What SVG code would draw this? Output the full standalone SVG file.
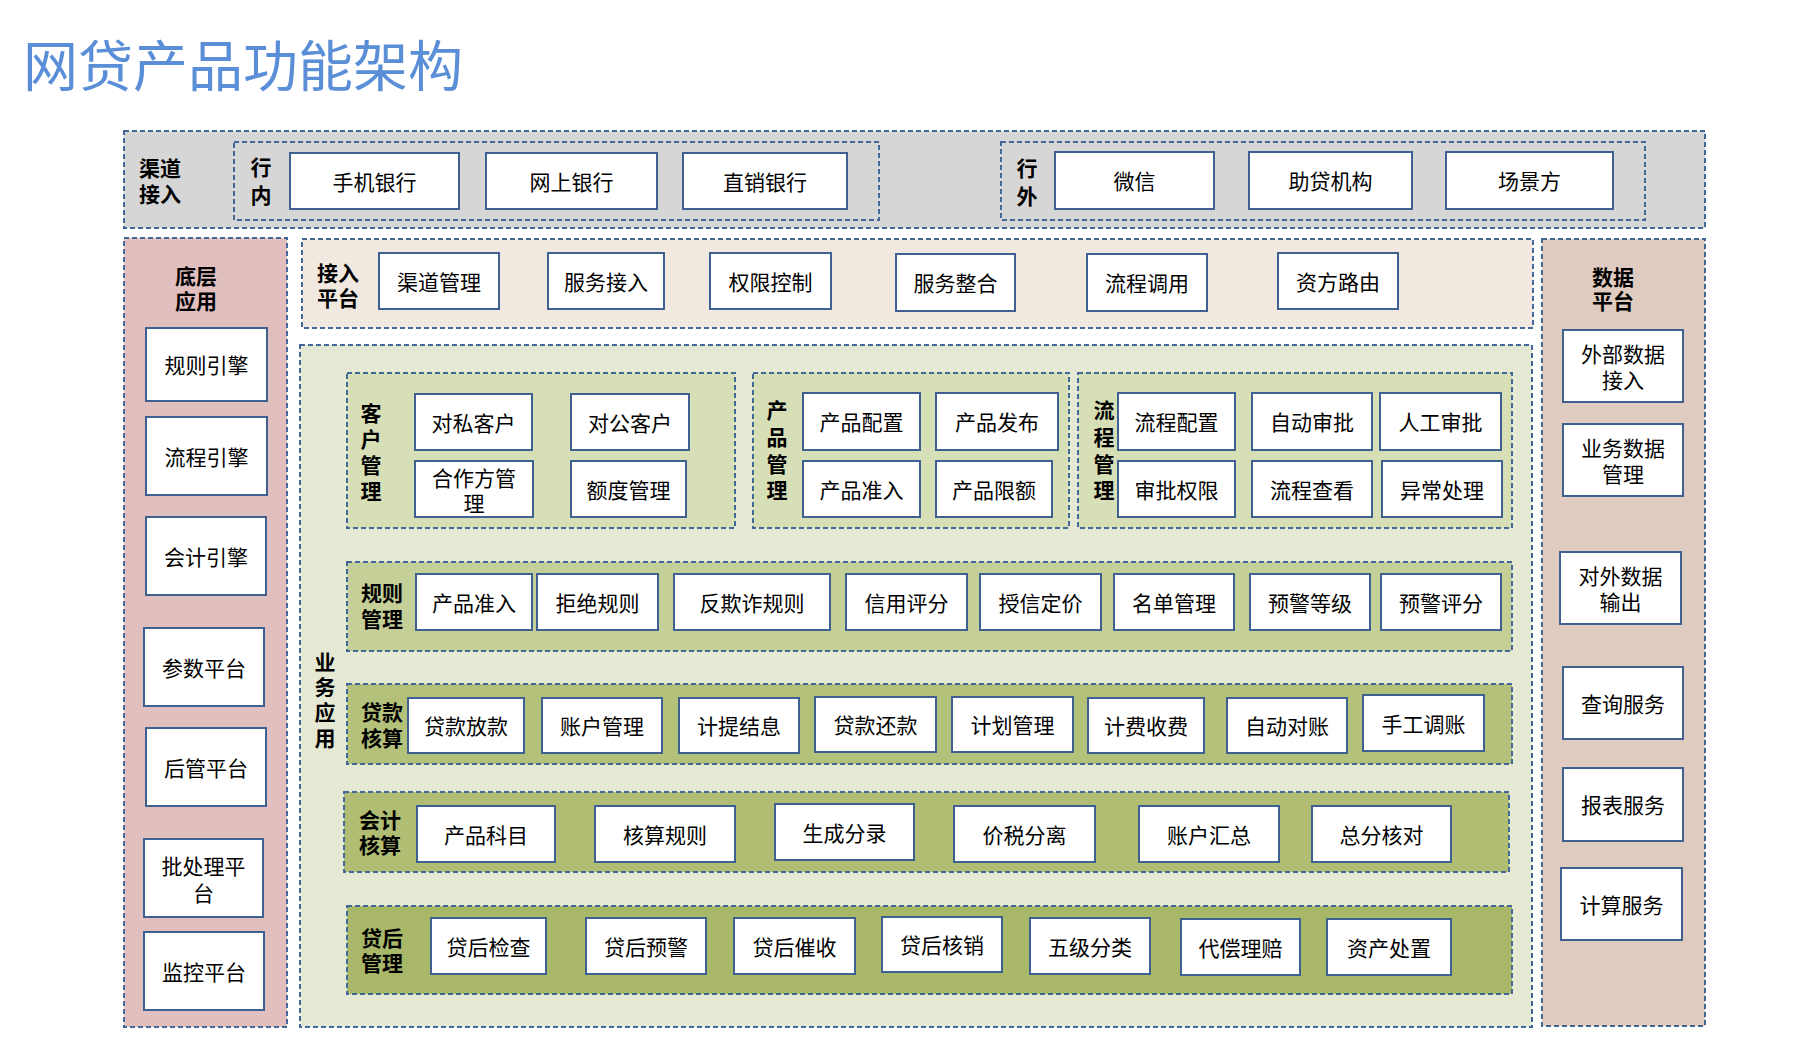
<svg xmlns="http://www.w3.org/2000/svg" width="1801" height="1039" viewBox="0 0 1801 1039">
<style>
text{font-family:"Liberation Sans","Noto Sans CJK SC",sans-serif;fill:#000;}
.t{font-size:21px;text-anchor:middle;dominant-baseline:central;}
.lb{font-size:21px;font-weight:700;text-anchor:middle;dominant-baseline:central;}
.bx{fill:#fff;stroke:#3f6192;stroke-width:2;}
.d{stroke:#44679a;stroke-width:2;stroke-dasharray:5 3;}
.gray{fill:#d6d6d6;}
.pink{fill:#e2bfbf;}
.tan{fill:#dfcbbf;}
.beige{fill:#f1e9e0;}
.biz{fill:#e5e9d4;}
.g1{fill:#d7dfb6;}
.g2{fill:#c5d098;}
.g3{fill:#b4c17a;}
.g4{fill:#b0bd72;}
.g5{fill:#a8b868;}
.none{fill:none;}
</style>
<rect width="1801" height="1039" fill="#fff"/>
<text x="23" y="67" style="font-size:55px;fill:#5a8fd8;dominant-baseline:central;">网贷产品功能架构</text>

<g transform="translate(0,1)">
<!-- Panels -->
<g id="channel-panel">
<rect class="gray d" x="124" y="130" width="1581" height="97"/>
<text class="lb" x="160" y="167">渠道<tspan x="160" dy="26">接入</tspan></text>
</g>
<g id="inner-bank">
<rect class="none d" x="234" y="141" width="645" height="78"/>
<text class="lb" x="261" y="166">行<tspan x="261" dy="28">内</tspan></text>
</g>
<g id="outer-bank">
<rect class="none d" x="1001" y="141" width="644" height="78"/>
<text class="lb" x="1027" y="167">行<tspan x="1027" dy="28">外</tspan></text>
</g>
<g id="base-panel">
<rect class="pink d" x="124" y="237" width="163" height="789"/>
<text class="lb" x="196" y="275">底层<tspan x="196" dy="25">应用</tspan></text>
</g>
<g id="access-panel">
<rect class="beige d" x="302" y="238" width="1231" height="89"/>
<text class="lb" x="338" y="272">接入<tspan x="338" dy="25">平台</tspan></text>
</g>
<g id="biz-panel">
<rect class="biz d" x="300" y="344" width="1232" height="682"/>
<text class="lb" x="325" y="661">业<tspan x="325" dy="25">务</tspan><tspan x="325" dy="25">应</tspan><tspan x="325" dy="26">用</tspan></text>
</g>
<g id="data-panel">
<rect class="tan d" x="1542" y="238" width="163" height="787"/>
<text class="lb" x="1613" y="276">数据<tspan x="1613" dy="24">平台</tspan></text>
</g>
<g id="cust-group">
<rect class="g1 d" x="347" y="372" width="388" height="155"/>
<text class="lb" x="371" y="412">客<tspan x="371" dy="26">户</tspan><tspan x="371" dy="26">管</tspan><tspan x="371" dy="26">理</tspan></text>
</g>
<g id="prod-group">
<rect class="g1 d" x="753" y="372" width="316" height="155"/>
<text class="lb" x="777" y="409">产<tspan x="777" dy="27">品</tspan><tspan x="777" dy="27">管</tspan><tspan x="777" dy="26">理</tspan></text>
</g>
<g id="flow-group">
<rect class="g1 d" x="1078" y="372" width="434" height="155"/>
<text class="lb" x="1104" y="409">流<tspan x="1104" dy="27">程</tspan><tspan x="1104" dy="27">管</tspan><tspan x="1104" dy="26">理</tspan></text>
</g>
<g id="rule-group">
<rect class="g2 d" x="347" y="561" width="1165" height="89"/>
<text class="lb" x="382" y="592">规则<tspan x="382" dy="26">管理</tspan></text>
</g>
<g id="loan-group">
<rect class="g3 d" x="347" y="683" width="1165" height="80"/>
<text class="lb" x="382" y="711">贷款<tspan x="382" dy="26">核算</tspan></text>
</g>
<g id="acct-group">
<rect class="g4 d" x="344" y="791" width="1165" height="80"/>
<text class="lb" x="380" y="819">会计<tspan x="380" dy="25">核算</tspan></text>
</g>
<g id="post-group">
<rect class="g5 d" x="347" y="905" width="1165" height="88"/>
<text class="lb" x="382" y="937">贷后<tspan x="382" dy="25">管理</tspan></text>
</g>

<!-- Channel nodes -->
<g id="n-mobile"><rect class="bx" x="290" y="152" width="169" height="56"/><text class="t" x="374.5" y="181">手机银行</text></g>
<g id="n-online"><rect class="bx" x="486" y="152" width="171" height="56"/><text class="t" x="571.5" y="181">网上银行</text></g>
<g id="n-direct"><rect class="bx" x="683" y="152" width="164" height="56"/><text class="t" x="765" y="181">直销银行</text></g>
<g id="n-wechat"><rect class="bx" x="1055" y="151" width="159" height="57"/><text class="t" x="1134.5" y="180.5">微信</text></g>
<g id="n-agency"><rect class="bx" x="1249" y="151" width="163" height="57"/><text class="t" x="1330.5" y="180.5">助贷机构</text></g>
<g id="n-scene"><rect class="bx" x="1446" y="151" width="167" height="57"/><text class="t" x="1529.5" y="180.5">场景方</text></g>

<!-- Base nodes -->
<g id="n-rule-engine"><rect class="bx" x="146" y="327" width="121" height="73"/><text class="t" x="206.5" y="364.5">规则引擎</text></g>
<g id="n-flow-engine"><rect class="bx" x="146" y="416" width="121" height="78"/><text class="t" x="206.5" y="456">流程引擎</text></g>
<g id="n-acct-engine"><rect class="bx" x="146" y="516" width="120" height="78"/><text class="t" x="206" y="556">会计引擎</text></g>
<g id="n-param"><rect class="bx" x="144" y="627" width="120" height="78"/><text class="t" x="204" y="667">参数平台</text></g>
<g id="n-backend"><rect class="bx" x="146" y="727" width="120" height="78"/><text class="t" x="206" y="767">后管平台</text></g>
<g id="n-batch"><rect class="bx" x="144" y="838" width="119" height="78"/><text class="t" x="203.5" y="865">批处理平<tspan x="203.5" dy="27">台</tspan></text></g>
<g id="n-monitor"><rect class="bx" x="144" y="931" width="120" height="78"/><text class="t" x="204" y="971">监控平台</text></g>

<!-- Access nodes -->
<g id="n-chan-mgmt"><rect class="bx" x="379" y="252" width="120" height="56"/><text class="t" x="439" y="281">渠道管理</text></g>
<g id="n-svc-in"><rect class="bx" x="548" y="252" width="116" height="56"/><text class="t" x="606" y="281">服务接入</text></g>
<g id="n-perm"><rect class="bx" x="710" y="252" width="121" height="56"/><text class="t" x="770.5" y="281">权限控制</text></g>
<g id="n-svc-int"><rect class="bx" x="896" y="253" width="119" height="57"/><text class="t" x="955.5" y="282.5">服务整合</text></g>
<g id="n-flow-call"><rect class="bx" x="1087" y="253" width="120" height="57"/><text class="t" x="1147" y="282.5">流程调用</text></g>
<g id="n-fund-route"><rect class="bx" x="1278" y="252" width="120" height="56"/><text class="t" x="1338" y="281">资方路由</text></g>

<!-- Customer -->
<g id="n-private"><rect class="bx" x="415" y="393" width="117" height="56"/><text class="t" x="473.5" y="422">对私客户</text></g>
<g id="n-corp"><rect class="bx" x="571" y="393" width="118" height="56"/><text class="t" x="630" y="422">对公客户</text></g>
<g id="n-partner"><rect class="bx" x="415" y="460" width="118" height="56"/><text class="t" x="474" y="477">合作方管<tspan x="474" dy="25">理</tspan></text></g>
<g id="n-quota"><rect class="bx" x="571" y="460" width="115" height="56"/><text class="t" x="628.5" y="489">额度管理</text></g>

<!-- Product -->
<g id="n-prod-conf"><rect class="bx" x="803" y="392" width="117" height="57"/><text class="t" x="861.5" y="421.5">产品配置</text></g>
<g id="n-prod-pub"><rect class="bx" x="936" y="392" width="122" height="57"/><text class="t" x="997" y="421.5">产品发布</text></g>
<g id="n-prod-adm"><rect class="bx" x="803" y="460" width="117" height="56"/><text class="t" x="861.5" y="489">产品准入</text></g>
<g id="n-prod-lim"><rect class="bx" x="936" y="460" width="116" height="56"/><text class="t" x="994" y="489">产品限额</text></g>

<!-- Flow -->
<g id="n-flow-conf"><rect class="bx" x="1118" y="392" width="117" height="57"/><text class="t" x="1176.5" y="421.5">流程配置</text></g>
<g id="n-auto-appr"><rect class="bx" x="1252" y="392" width="120" height="57"/><text class="t" x="1312" y="421.5">自动审批</text></g>
<g id="n-man-appr"><rect class="bx" x="1380" y="392" width="121" height="57"/><text class="t" x="1440.5" y="421.5">人工审批</text></g>
<g id="n-appr-perm"><rect class="bx" x="1118" y="460" width="117" height="56"/><text class="t" x="1176.5" y="489">审批权限</text></g>
<g id="n-flow-view"><rect class="bx" x="1252" y="460" width="120" height="56"/><text class="t" x="1312" y="489">流程查看</text></g>
<g id="n-exception"><rect class="bx" x="1382" y="460" width="120" height="56"/><text class="t" x="1442" y="489">异常处理</text></g>

<!-- Rules -->
<g id="n-r1"><rect class="bx" x="416" y="573" width="116" height="56"/><text class="t" x="474" y="602">产品准入</text></g>
<g id="n-r2"><rect class="bx" x="537" y="573" width="121" height="56"/><text class="t" x="597.5" y="602">拒绝规则</text></g>
<g id="n-r3"><rect class="bx" x="674" y="573" width="156" height="56"/><text class="t" x="752" y="602">反欺诈规则</text></g>
<g id="n-r4"><rect class="bx" x="846" y="573" width="121" height="56"/><text class="t" x="906.5" y="602">信用评分</text></g>
<g id="n-r5"><rect class="bx" x="980" y="573" width="121" height="56"/><text class="t" x="1040.5" y="602">授信定价</text></g>
<g id="n-r6"><rect class="bx" x="1114" y="573" width="120" height="56"/><text class="t" x="1174" y="602">名单管理</text></g>
<g id="n-r7"><rect class="bx" x="1250" y="573" width="120" height="56"/><text class="t" x="1310" y="602">预警等级</text></g>
<g id="n-r8"><rect class="bx" x="1381" y="573" width="120" height="56"/><text class="t" x="1441" y="602">预警评分</text></g>

<!-- Loan accounting -->
<g id="n-l1"><rect class="bx" x="408" y="697" width="116" height="55"/><text class="t" x="466" y="725.5">贷款放款</text></g>
<g id="n-l2"><rect class="bx" x="542" y="697" width="120" height="55"/><text class="t" x="602" y="725.5">账户管理</text></g>
<g id="n-l3"><rect class="bx" x="679" y="697" width="120" height="55"/><text class="t" x="739" y="725.5">计提结息</text></g>
<g id="n-l4"><rect class="bx" x="815" y="696" width="121" height="55"/><text class="t" x="875.5" y="724.5">贷款还款</text></g>
<g id="n-l5"><rect class="bx" x="952" y="696" width="121" height="55"/><text class="t" x="1012.5" y="724.5">计划管理</text></g>
<g id="n-l6"><rect class="bx" x="1088" y="697" width="116" height="55"/><text class="t" x="1146" y="725.5">计费收费</text></g>
<g id="n-l7"><rect class="bx" x="1227" y="697" width="120" height="55"/><text class="t" x="1287" y="725.5">自动对账</text></g>
<g id="n-l8"><rect class="bx" x="1363" y="694" width="121" height="56"/><text class="t" x="1423.5" y="723">手工调账</text></g>

<!-- Accounting -->
<g id="n-a1"><rect class="bx" x="417" y="805" width="138" height="56"/><text class="t" x="486" y="834">产品科目</text></g>
<g id="n-a2"><rect class="bx" x="595" y="805" width="140" height="56"/><text class="t" x="665" y="834">核算规则</text></g>
<g id="n-a3"><rect class="bx" x="775" y="803" width="139" height="56"/><text class="t" x="844.5" y="832">生成分录</text></g>
<g id="n-a4"><rect class="bx" x="954" y="805" width="141" height="56"/><text class="t" x="1024.5" y="834">价税分离</text></g>
<g id="n-a5"><rect class="bx" x="1139" y="805" width="140" height="56"/><text class="t" x="1209" y="834">账户汇总</text></g>
<g id="n-a6"><rect class="bx" x="1312" y="805" width="139" height="56"/><text class="t" x="1381.5" y="834">总分核对</text></g>

<!-- Post-loan -->
<g id="n-p1"><rect class="bx" x="431" y="917" width="115" height="56"/><text class="t" x="488.5" y="946">贷后检查</text></g>
<g id="n-p2"><rect class="bx" x="586" y="917" width="120" height="56"/><text class="t" x="646" y="946">贷后预警</text></g>
<g id="n-p3"><rect class="bx" x="734" y="917" width="121" height="56"/><text class="t" x="794.5" y="946">贷后催收</text></g>
<g id="n-p4"><rect class="bx" x="882" y="916" width="120" height="55"/><text class="t" x="942" y="944.5">贷后核销</text></g>
<g id="n-p5"><rect class="bx" x="1030" y="917" width="120" height="56"/><text class="t" x="1090" y="946">五级分类</text></g>
<g id="n-p6"><rect class="bx" x="1181" y="918" width="119" height="56"/><text class="t" x="1240.5" y="947">代偿理赔</text></g>
<g id="n-p7"><rect class="bx" x="1327" y="918" width="124" height="56"/><text class="t" x="1389" y="947">资产处置</text></g>

<!-- Data nodes -->
<g id="n-d1"><rect class="bx" x="1563" y="329" width="120" height="72"/><text class="t" x="1623" y="353">外部数据<tspan x="1623" dy="26">接入</tspan></text></g>
<g id="n-d2"><rect class="bx" x="1563" y="423" width="120" height="72"/><text class="t" x="1623" y="447">业务数据<tspan x="1623" dy="26">管理</tspan></text></g>
<g id="n-d3"><rect class="bx" x="1560" y="551" width="121" height="72"/><text class="t" x="1620.5" y="575">对外数据<tspan x="1620.5" dy="26">输出</tspan></text></g>
<g id="n-d4"><rect class="bx" x="1563" y="666" width="120" height="72"/><text class="t" x="1623" y="703">查询服务</text></g>
<g id="n-d5"><rect class="bx" x="1563" y="767" width="120" height="73"/><text class="t" x="1623" y="804.5">报表服务</text></g>
<g id="n-d6"><rect class="bx" x="1561" y="867" width="121" height="72"/><text class="t" x="1621.5" y="904">计算服务</text></g>
</g>

<g id="connectors"></g>
</svg>
